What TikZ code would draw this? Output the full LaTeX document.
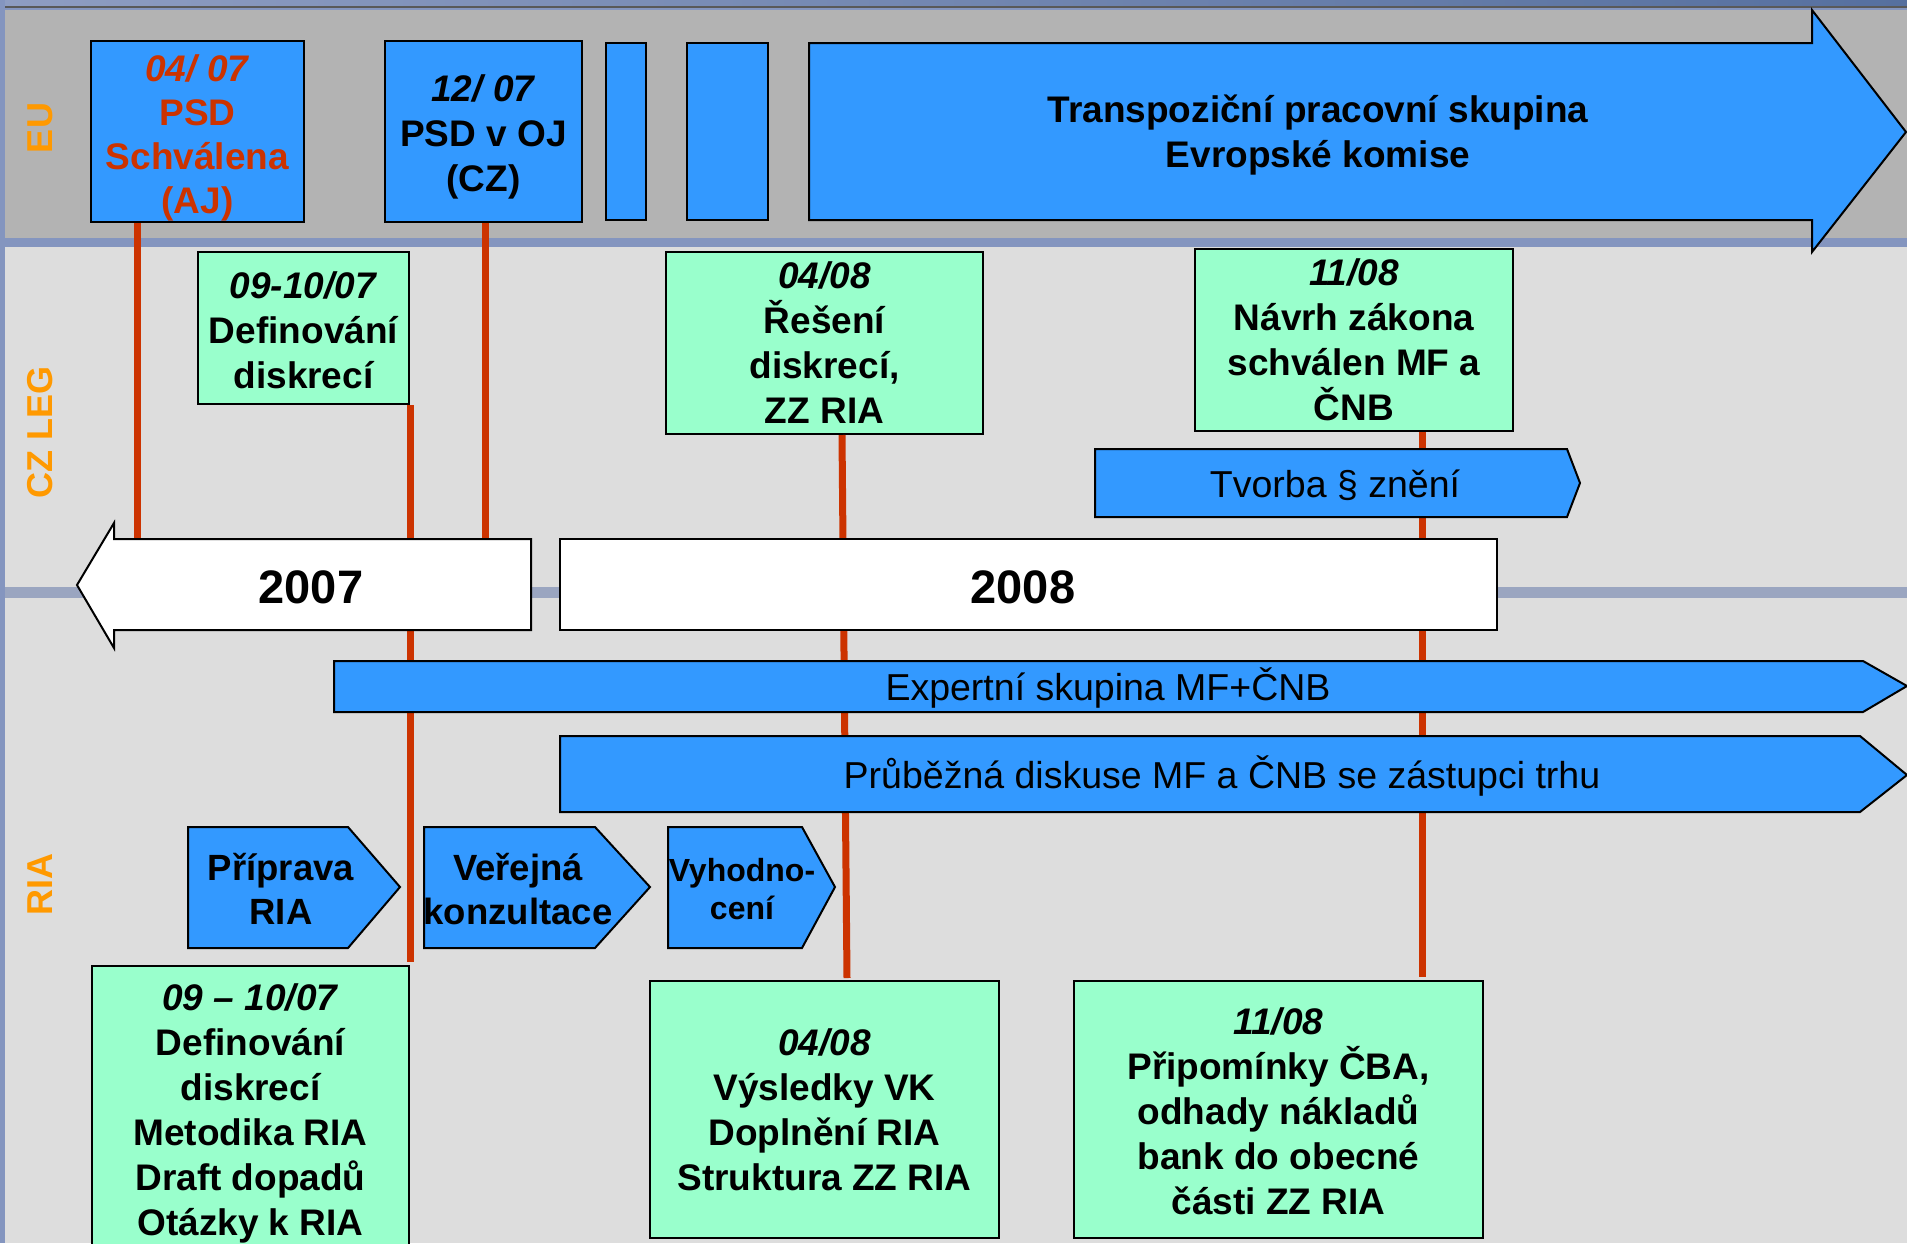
\documentclass[tikz,border=0pt]{standalone}
\usepackage{fontspec}
\setmainfont{Liberation Sans}
\definecolor{boxblue}{HTML}{3399FF}
\definecolor{boxgreen}{HTML}{99FFCC}
\definecolor{redl}{HTML}{CC3300}
\definecolor{lblorange}{HTML}{FF9900}
\definecolor{eugrey}{HTML}{B3B3B3}
\definecolor{lgrey}{HTML}{DDDDDD}
\definecolor{sepa}{HTML}{8495BF}
\definecolor{sepb}{HTML}{9AA5C0}
\definecolor{topa}{HTML}{8E9DC2}
\definecolor{topb}{HTML}{56709F}
\begin{document}
\begin{tikzpicture}[x=1pt,y=-1pt,
  bluebox/.style={draw=black, line width=2pt, fill=boxblue, inner sep=0pt, align=center},
  greenbox/.style={draw=black, line width=2pt, fill=boxgreen, inner sep=0pt, align=center},
  shapeblue/.style={draw=black, line width=2pt, fill=boxblue, line join=miter},
  shapewhite/.style={draw=black, line width=2pt, fill=white, line join=miter},
  boldtxt/.style={font=\fontsize{37}{45}\selectfont\bfseries, align=center},
  regtxt/.style={font=\fontsize{37.5}{44}\selectfont, align=center},
  yeartxt/.style={font=\fontsize{47}{50}\selectfont\bfseries},
  lanelbl/.style={rotate=90, text=lblorange, font=\fontsize{36}{40}\selectfont\bfseries},
  redline/.style={draw=redl, line width=7pt}
]
\useasboundingbox (0,0) rectangle (1907,1243);
% backgrounds
\fill[lgrey] (0,0) rectangle (1907,1243);
\fill[eugrey] (0,10) rectangle (1907,238);
\fill[sepa] (0,238) rectangle (1907,247);
\fill[sepb] (0,587) rectangle (1907,598);
\shade[left color=topa, right color=topb] (0,0) rectangle (1907,6);
\fill[black!65] (0,6) rectangle (1907,8);
\fill[sepa] (0,8) rectangle (1907,10);
\fill[sepa] (0,0) rectangle (5,1243);

% lane labels
\node[lanelbl] (lbleu) at (40,128) {EU};
\node[lanelbl] (lblcz) at (40,432) {CZ LEG};
\node[lanelbl] (lblria) at (40,884) {RIA};

% EU boxes
\node[bluebox, minimum width=213, minimum height=181] (psd) at (197.5,131.5) {};
\node[boldtxt, text=redl, font=\fontsize{37}{44}\selectfont\bfseries] (psdtxt) at ([yshift=-6pt]psd.center) {\textit{04/ 07}\\PSD\\Schválena\\(AJ)};
\node[bluebox, minimum width=197, minimum height=181] (oj) at (483.5,131.5) {};
\node[boldtxt] (ojtxt) at ([yshift=-5pt]oj.center) {\textit{12/ 07}\\PSD v OJ\\(CZ)};
\node[bluebox, minimum width=40, minimum height=177] (eub3) at (626,131.5) {};
\node[bluebox, minimum width=81, minimum height=177] (eub4) at (727.5,131.5) {};
\draw[shapeblue] (809,43) -- (1812,43) -- (1812,10) -- (1906,132) -- (1812,252) -- (1812,220) -- (809,220) -- cycle;
\node[boldtxt] (eutp) at (1318,135) {Transpoziční pracovní skupina\\Evropské komise};

% coordinates for connectors
\coordinate (l1x) at (137,0);
\coordinate (l2x) at (485,0);
\coordinate (top07) at (0,539);
\coordinate (l4a) at (842,0);
\coordinate (l4b) at (847,981);
\coordinate (l5x) at (1422,0);

% CZ LEG green boxes
\node[greenbox, minimum width=211, minimum height=152] (def) at (303.5,328) {};
\node[boldtxt] (deftxt) at ([yshift=-2pt]def.center) {\textit{09-10/07}\\Definování\\diskrecí};
\node[greenbox, minimum width=317, minimum height=182, boldtxt] (res) at (824.5,343)
  {\textit{04/08}\\Řešení\\diskrecí,\\ZZ RIA};
\node[greenbox, minimum width=318, minimum height=182, boldtxt] (nav) at (1354,340)
  {\textit{11/08}\\Návrh zákona\\schválen MF a\\ČNB};

% RIA green boxes
\node[greenbox, minimum width=317, minimum height=284] (ria1) at (250.5,1108) {};
\node[boldtxt] (ria1txt) at ([yshift=-5pt]ria1.center)
  {\textit{09 – 10/07}\\Definování\\diskrecí\\Metodika RIA\\Draft dopadů\\Otázky k RIA};
\node[greenbox, minimum width=349, minimum height=257, boldtxt] (ria3) at (824.5,1109.5)
  {\textit{04/08}\\Výsledky VK\\Doplnění RIA\\Struktura ZZ RIA};
\node[greenbox, minimum width=409, minimum height=257] (ria4) at (1278.5,1109.5) {};
\node[boldtxt] (ria4txt) at ([yshift=-2pt]ria4.center)
  {\textit{11/08}\\Připomínky ČBA,\\odhady nákladů\\bank do obecné\\části ZZ RIA};

% red connectors (behind the bars)
\draw[redline] (psd.south -| l1x) -- (top07 -| l1x);
\draw[redline] (oj.south -| l2x) -- (top07 -| l2x);
\draw[redline] (def.south east) -- ([yshift=3pt]ria1.north east);
\draw[redline] (res.south -| l4a) -- ([yshift=3pt]l4b);
\draw[redline] (nav.south -| l5x) -- ([yshift=3pt]ria4.north -| l5x);

% Tvorba arrow
\draw[shapeblue] (1095,449) -- (1567,449) -- (1580,483) -- (1567,517) -- (1095,517) -- cycle;
\node[regtxt] (tvorba) at (1335,485) {Tvorba § znění};

% year arrows
\draw[shapewhite] (531,539) -- (114,539) -- (114,523) -- (77,585) -- (114,648) -- (114,630) -- (531,630) -- cycle;
\node[yeartxt] (y2007) at (311,587) {2007};
\node[draw=black, line width=2pt, fill=white, minimum width=937, minimum height=91] (y2008) at (1028.5,584.5) {};
\node[yeartxt] (y2008txt) at (1023,587) {2008};

% RIA bars
\draw[shapeblue] (334,661) -- (1863,661) -- (1907,686) -- (1863,712) -- (334,712) -- cycle;
\node[regtxt] (expert) at (1108,688) {Expertní skupina MF+ČNB};
\draw[shapeblue] (560,736) -- (1860,736) -- (1907,775) -- (1860,812) -- (560,812) -- cycle;
\node[regtxt] (prub) at (1222,776) {Průběžná diskuse MF a ČNB se zástupci trhu};

% RIA process arrows
\draw[shapeblue] (188,827) -- (348,827) -- (400,887) -- (348,948) -- (188,948) -- cycle;
\node[boldtxt, font=\fontsize{36.5}{44}\selectfont\bfseries] (prip) at (281,889) {Příprava\\RIA};
\draw[shapeblue] (424,827) -- (595,827) -- (650,887) -- (595,948) -- (424,948) -- cycle;
\node[boldtxt, font=\fontsize{36.5}{44}\selectfont\bfseries] (verej) at (518,889) {Veřejná\\konzultace};
\draw[shapeblue] (668,827) -- (802,827) -- (835,887) -- (802,948) -- (668,948) -- cycle;
\node[align=center, font=\fontsize{32}{38}\selectfont\bfseries] (vyhod) at (742,889) {Vyhodno-\\cení};
\end{tikzpicture}
\end{document}
